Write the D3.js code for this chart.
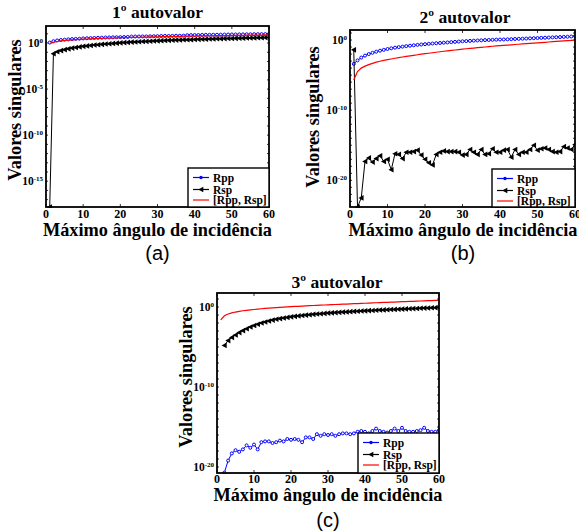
<!DOCTYPE html>
<html>
<head>
<meta charset="utf-8">
<script src="https://cdn.jsdelivr.net/npm/d3@7"></script>
<style>
  body { margin: 0; background: #fff; }
  svg { display: block; }
  .serif { font-family: "Liberation Serif", "Times New Roman", serif; font-weight: bold; }
</style>
</head>
<body>
<svg id="fig" width="579" height="531"></svg>
<script>
// incidence angle (x) shared by all panels
var angles = [1,2,3,4,5,6,7,8,9,10,11,12,13,14,15,16,17,18,19,20,
  21,22,23,24,25,26,27,28,29,30,31,32,33,34,35,36,37,38,39,40,
  41,42,43,44,45,46,47,48,49,50,51,52,53,54,55,56,57,58,59,60];
var xTicks = [0, 10, 20, 30, 40, 50, 60];

// singular values, stored as log10
// (a) 1st eigenvalue
var a_rpp = [0.05,0.20,0.28,0.33,0.37,0.40,0.43,0.45,0.47,0.50,
  0.52,0.54,0.55,0.57,0.58,0.60,0.61,0.62,0.63,0.64,
  0.65,0.66,0.70,0.71,0.71,0.72,0.72,0.73,0.74,0.75,
  0.76,0.77,0.77,0.78,0.79,0.79,0.80,0.85,0.86,0.87,
  0.87,0.88,0.89,0.89,0.90,0.90,0.91,0.92,0.92,0.93,
  0.93,0.94,0.94,0.95,0.95,0.96,0.96,0.97,0.97,0.99];
var a_rsp = [-17.8,-1.15,-0.95,-0.82,-0.72,-0.63,-0.55,-0.48,-0.42,-0.36,
  -0.31,-0.26,-0.22,-0.18,-0.14,-0.11,-0.07,-0.04,-0.01,0.02,
  0.05,0.07,0.10,0.12,0.14,0.16,0.18,0.20,0.22,0.24,
  0.26,0.27,0.29,0.30,0.32,0.33,0.35,0.36,0.37,0.39,
  0.40,0.41,0.42,0.44,0.45,0.46,0.47,0.48,0.49,0.50,
  0.51,0.52,0.53,0.54,0.55,0.56,0.57,0.58,0.59,0.60];
var a_both = [-0.05,0.08,0.17,0.23,0.28,0.32,0.35,0.38,0.40,0.42,
  0.44,0.46,0.48,0.50,0.51,0.53,0.54,0.55,0.57,0.58,
  0.59,0.60,0.61,0.62,0.63,0.64,0.65,0.66,0.67,0.68,
  0.69,0.70,0.70,0.71,0.72,0.73,0.74,0.74,0.75,0.76,
  0.77,0.77,0.78,0.79,0.79,0.80,0.81,0.81,0.82,0.83,
  0.83,0.84,0.84,0.85,0.86,0.86,0.87,0.87,0.88,0.88];

// (b) 2nd eigenvalue
var b_rpp = [-3.40,-2.90,-2.50,-2.22,-2.00,-1.82,-1.66,-1.52,-1.40,-1.28,
  -1.18,-1.09,-1.01,-0.94,-0.87,-0.81,-0.75,-0.69,-0.64,-0.59,
  -0.54,-0.50,-0.46,-0.42,-0.38,-0.34,-0.30,-0.26,-0.22,-0.18,
  -0.15,-0.12,-0.09,-0.06,-0.04,-0.01,0.01,0.03,0.05,0.07,
  0.08,0.10,0.12,0.15,0.17,0.19,0.21,0.24,0.26,0.28,
  0.31,0.33,0.35,0.38,0.40,0.42,0.45,0.47,0.50,0.55];
var b_rsp = [-1.4,-23.8,-22.5,-17.3,-16.8,-17.4,-16.9,-16.5,-17.3,-17.0,
  -18.5,-16.2,-16.3,-16.9,-16.0,-16.0,-15.9,-15.7,-16.4,-17.0,
  -17.5,-17.8,-16.3,-16.0,-15.8,-15.9,-15.9,-15.9,-16.0,-16.4,
  -16.3,-15.6,-16.0,-16.3,-15.6,-16.3,-16.2,-15.5,-16.0,-16.0,
  -15.7,-15.6,-16.7,-15.6,-16.3,-16.0,-16.0,-15.6,-15.0,-15.7,
  -15.5,-15.4,-15.6,-15.9,-16.0,-15.9,-15.2,-15.4,-15.6,-14.9];
var b_both = [-5.70,-4.50,-4.00,-3.72,-3.50,-3.32,-3.16,-3.02,-2.90,-2.80,
  -2.70,-2.60,-2.51,-2.42,-2.34,-2.26,-2.18,-2.10,-2.02,-1.95,
  -1.88,-1.81,-1.74,-1.67,-1.60,-1.54,-1.48,-1.42,-1.36,-1.30,
  -1.24,-1.19,-1.14,-1.09,-1.04,-0.99,-0.94,-0.89,-0.84,-0.80,
  -0.76,-0.72,-0.68,-0.64,-0.60,-0.56,-0.52,-0.48,-0.44,-0.40,
  -0.36,-0.32,-0.28,-0.24,-0.20,-0.16,-0.12,-0.08,-0.04,0.00];

// (c) 3rd eigenvalue (Rpp and Rsp start at 2 degrees)
var c_rpp = [null,-20.7,-19.2,-18.3,-17.9,-18.1,-17.8,-17.3,-17.6,-17.2,
  -17.8,-16.9,-16.8,-16.8,-17.0,-16.9,-16.7,-16.8,-16.5,-16.6,
  -16.5,-16.6,-16.9,-16.3,-16.3,-16.5,-15.9,-16.1,-15.9,-16.0,
  -15.9,-16.1,-15.9,-15.8,-15.8,-15.9,-15.8,-15.6,-15.5,-15.6,
  -15.8,-15.5,-15.2,-15.5,-15.6,-15.7,-15.5,-15.2,-15.5,-15.1,
  -15.5,-15.6,-15.6,-15.5,-15.4,-15.1,-15.5,-15.6,-15.6,-15.4];
var c_rsp = [null,-4.80,-4.20,-3.80,-3.50,-3.20,-2.95,-2.72,-2.50,-2.32,
  -2.15,-2.00,-1.87,-1.75,-1.64,-1.54,-1.45,-1.37,-1.30,-1.23,
  -1.17,-1.11,-1.06,-1.01,-0.96,-0.92,-0.88,-0.84,-0.80,-0.76,
  -0.73,-0.70,-0.67,-0.64,-0.61,-0.58,-0.55,-0.53,-0.50,-0.48,
  -0.45,-0.43,-0.41,-0.38,-0.36,-0.34,-0.32,-0.30,-0.28,-0.26,
  -0.24,-0.22,-0.20,-0.18,-0.16,-0.14,-0.12,-0.10,-0.08,-0.06];
var c_both = [-1.60,-1.10,-0.88,-0.74,-0.63,-0.54,-0.47,-0.41,-0.36,-0.31,
  -0.26,-0.22,-0.18,-0.14,-0.11,-0.08,-0.05,-0.02,0.01,0.04,
  0.07,0.09,0.12,0.14,0.16,0.19,0.21,0.23,0.25,0.27,
  0.29,0.31,0.33,0.35,0.37,0.39,0.41,0.43,0.45,0.47,
  0.49,0.51,0.53,0.55,0.57,0.59,0.61,0.62,0.64,0.66,
  0.68,0.70,0.71,0.73,0.75,0.77,0.79,0.80,0.82,0.84];

var legendNames = ["Rpp", "Rsp", "[Rpp, Rsp]"];

var panels = [
  { title: "1º autovalor", tag: "(a)", rpp: a_rpp, rsp: a_rsp, both: a_both,
    yExp: [-17.8, 1.85], yLabels: [0, -5, -10, -15],
    x0: 46, x1: 269, y0: 26, y1: 207, titleX: 157.5, titleY: 18,
    yLabX: 14.5, yLabY: 110, xLabX: 157.5, xLabY: 236, tagY: 260,
    tickY: 11, legX: 188, legY: 168 },
  { title: "2º autovalor", tag: "(b)", rpp: b_rpp, rsp: b_rsp, both: b_both,
    yExp: [-23.8, 1.43], yLabels: [0, -10, -20],
    x0: 350, x1: 575, y0: 30, y1: 207, titleX: 465, titleY: 23,
    yLabX: 312.5, yLabY: 117, xLabX: 463, xLabY: 236, tagY: 260,
    tickY: 11, legX: 492, legY: 169 },
  { title: "3º autovalor", tag: "(c)", rpp: c_rpp, rsp: c_rsp, both: c_both,
    yExp: [-20.75, 1.75], yLabels: [0, -10, -20],
    x0: 217, x1: 439, y0: 293, y1: 473, titleX: 337, titleY: 288,
    yLabX: 185.5, yLabY: 377, xLabX: 328, xLabY: 501, tagY: 527,
    tickY: 10, legX: 358, legY: 433 }
];

var svg = d3.select("#fig");
var tri = "M-2.8,0L2.3,-2.8L2.3,2.8Z";

panels.forEach(function (p, i) {
  var g = svg.append("g");

  var x = d3.scaleLinear().domain([0, 60]).range([p.x0, p.x1]);
  var y = d3.scaleLog()
    .domain([Math.pow(10, p.yExp[0]), Math.pow(10, p.yExp[1])])
    .range([p.y1, p.y0]);

  // clip
  g.append("clipPath").attr("id", "clip" + i)
    .append("rect")
    .attr("x", p.x0).attr("y", p.y0 - 1)
    .attr("width", p.x1 - p.x0).attr("height", p.y1 - p.y0 + 2);

  // tick marks (inward, all four sides)
  var decades = d3.range(Math.ceil(p.yExp[0]), Math.floor(p.yExp[1]) + 1);
  var ticks = g.append("g").attr("stroke", "#000").attr("stroke-width", 0.8);
  xTicks.forEach(function (t) {
    ticks.append("line").attr("x1", x(t)).attr("x2", x(t)).attr("y1", p.y1).attr("y2", p.y1 - 3);
    ticks.append("line").attr("x1", x(t)).attr("x2", x(t)).attr("y1", p.y0).attr("y2", p.y0 + 3);
  });
  decades.forEach(function (e) {
    var yy = y(Math.pow(10, e));
    ticks.append("line").attr("x1", p.x0).attr("x2", p.x0 + 2).attr("y1", yy).attr("y2", yy);
    ticks.append("line").attr("x1", p.x1).attr("x2", p.x1 - 2).attr("y1", yy).attr("y2", yy);
  });

  // x tick labels
  g.append("g").selectAll("text").data(xTicks).enter().append("text")
    .attr("class", "serif")
    .attr("x", function (d) { return x(d); })
    .attr("y", p.y1 + p.tickY)
    .attr("text-anchor", "middle")
    .style("font-size", "12px")
    .text(function (d) { return d; });

  // y tick labels 10^e
  var yl = g.append("g").selectAll("text").data(p.yLabels).enter().append("text")
    .attr("class", "serif")
    .attr("x", p.x0 - 3)
    .attr("y", function (d) { return y(Math.pow(10, d)) + 4; })
    .attr("text-anchor", "end")
    .style("font-size", "11.5px");
  yl.append("tspan").text("10");
  yl.append("tspan").attr("dy", -4.5).style("font-size", "7px")
    .text(function (d) { return d; });

  // data
  var data = g.append("g").attr("clip-path", "url(#clip" + i + ")");
  function pts(arr) {
    return angles.map(function (a, k) { return { a: a, v: arr[k] }; })
      .filter(function (d) { return d.v !== null; });
  }
  var line = d3.line()
    .x(function (d) { return x(d.a); })
    .y(function (d) { return y(Math.pow(10, d.v)); });

  var rpp = pts(p.rpp), rsp = pts(p.rsp), both = pts(p.both);

  data.append("path").datum(rpp).attr("d", line)
    .attr("fill", "none").attr("stroke", "#0000ff").attr("stroke-width", 1);
  data.append("g").selectAll("circle").data(rpp).enter().append("circle")
    .attr("cx", function (d) { return x(d.a); })
    .attr("cy", function (d) { return y(Math.pow(10, d.v)); })
    .attr("r", 1.5)
    .attr("fill", "#fff").attr("stroke", "#0000ff").attr("stroke-width", 1);

  data.append("path").datum(rsp).attr("d", line)
    .attr("fill", "none").attr("stroke", "#000").attr("stroke-width", 1);
  data.append("g").selectAll("path").data(rsp).enter().append("path")
    .attr("d", tri)
    .attr("transform", function (d) {
      return "translate(" + x(d.a) + "," + y(Math.pow(10, d.v)) + ")";
    })
    .attr("fill", "#000");

  data.append("path").datum(both).attr("d", line)
    .attr("fill", "none").attr("stroke", "#ff0000").attr("stroke-width", 1.2);

  // frame
  g.append("rect")
    .attr("x", p.x0).attr("y", p.y0)
    .attr("width", p.x1 - p.x0).attr("height", p.y1 - p.y0)
    .attr("fill", "none").attr("stroke", "#000").attr("stroke-width", 1.8);

  // legend
  var lg = g.append("g").attr("transform", "translate(" + p.legX + "," + p.legY + ")");
  lg.append("rect").attr("width", p.x1 - p.legX).attr("height", p.y1 - p.legY)
    .attr("fill", "#fff").attr("stroke", "#000").attr("stroke-width", 1.4);
  var rows = [9.5, 21.5, 32];
  var cols = ["#0000ff", "#000", "#ff0000"];
  legendNames.forEach(function (n, k) {
    lg.append("line").attr("x1", 5).attr("x2", 21).attr("y1", rows[k]).attr("y2", rows[k])
      .attr("stroke", cols[k]).attr("stroke-width", 1.2);
    if (k === 0) {
      lg.append("circle").attr("cx", 13).attr("cy", rows[k]).attr("r", 1.7).attr("fill", cols[k]);
    } else if (k === 1) {
      lg.append("path").attr("d", tri).attr("transform", "translate(13," + rows[k] + ")").attr("fill", "#000");
    }
    lg.append("text").attr("class", "serif")
      .attr("x", 25).attr("y", rows[k] + 4)
      .style("font-size", "11.5px")
      .text(n);
  });

  // titles and axis labels
  g.append("text").attr("class", "serif")
    .attr("x", p.titleX).attr("y", p.titleY)
    .attr("text-anchor", "middle").style("font-size", "17.5px")
    .text(p.title);
  g.append("text").attr("class", "serif")
    .attr("transform", "translate(" + p.yLabX + "," + p.yLabY + ") rotate(-90)")
    .attr("text-anchor", "middle").attr("dy", "0.35em")
    .style("font-size", "18.3px")
    .text("Valores singulares");
  g.append("text").attr("class", "serif")
    .attr("x", p.xLabX).attr("y", p.xLabY)
    .attr("text-anchor", "middle").style("font-size", "18.3px")
    .text("Máximo ângulo de incidência");
  g.append("text")
    .attr("x", p.xLabX).attr("y", p.tagY)
    .attr("text-anchor", "middle")
    .style("font-family", "'Liberation Sans', Arial, sans-serif")
    .style("font-size", "20px")
    .text(p.tag);
});
</script>
</body>
</html>
